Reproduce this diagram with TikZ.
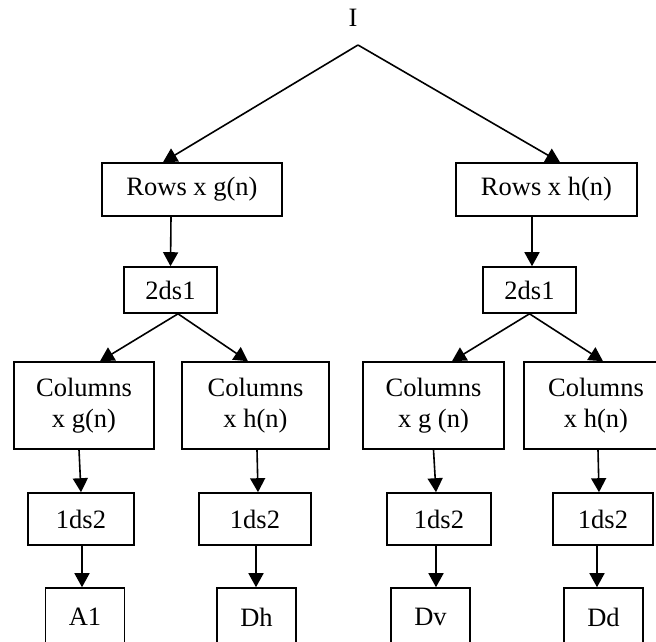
\documentclass[tikz,border=0pt]{standalone}
\usepackage{fontspec}
\setmainfont{Liberation Serif}
\usetikzlibrary{arrows.meta}

\begin{document}
\begin{tikzpicture}
    [
      x = 1pt, y = -1pt,
      font = \fontsize{26.5}{31}\selectfont,
      box/.style = {draw, line width = 1.6pt, inner sep = 0pt, align = center},
      wide/.style = {box, minimum height = 87pt},
      small/.style = {box, minimum height = 52pt},
      leaf/.style = {box, minimum width = 79pt, minimum height = 58pt},
      link/.style = {line width = 1.6pt, -{Triangle[length = 14pt, width = 15pt]}},
    ]
    \useasboundingbox (0,0) rectangle (656,641);

    \node[] (img) at (353,18) {I};
    \coordinate (top) at (358,45);

    \node[box, minimum width = 180pt, minimum height = 53pt] (rowsg) at (192,189.5) {Rows x g(n)};
    \node[box, minimum width = 181pt, minimum height = 53pt] (rowsh) at (546.5,189.5) {Rows x h(n)};

    \node[box, minimum width = 93pt, minimum height = 46pt] (dsg) at (170.5,290) {2ds1};
    \node[box, minimum width = 93pt, minimum height = 46pt] (dsh) at (529.5,290) {2ds1};

    \node[wide, minimum width = 140pt] (colgg) at (84,405.5) {Columns\\x g(n)};
    \node[wide, minimum width = 147pt] (colgh) at (255.5,405.5) {Columns\\x h(n)};
    \node[wide, minimum width = 141pt] (colhg) at (433.5,405.5) {Columns\\x g (n)};
    \node[wide, minimum width = 144pt] (colhh) at (596,405.5) {Columns\\x h(n)};

    \node[small, minimum width = 106pt] (dsgg) at (81,519) {1ds2};
    \node[small, minimum width = 112pt] (dsgh) at (255,519) {1ds2};
    \node[small, minimum width = 104pt] (dshg) at (439,519) {1ds2};
    \node[small, minimum width = 100pt] (dshh) at (603,519) {1ds2};

    \node[leaf] (a1) at (85,617) {A1};
    \node[leaf] (dh) at (256.5,617) {Dh};
    \node[leaf] (dv) at (430.5,617) {Dv};
    \node[leaf] (dd) at (603.5,617) {Dd};

    \draw[link] (top) -- ([xshift = -29pt]rowsg.north);
    \draw[link] (top) -- ([xshift = 13.5pt]rowsh.north);

    \draw[link] ([xshift = -21pt]rowsg.south) -- (dsg.north);
    \draw[link] ([xshift = -14.5pt]rowsh.south) -- ([xshift = 2.5pt]dsh.north);

    \draw[link] ([xshift = 7.5pt]dsg.south) -- ([xshift = 16pt]colgg.north);
    \draw[link] ([xshift = 7.5pt]dsg.south) -- ([xshift = -7.5pt]colgh.north);
    \draw[link] (dsh.south) -- ([xshift = 18.5pt]colhg.north);
    \draw[link] (dsh.south) -- ([xshift = 7pt]colhh.north);

    \draw[link] ([xshift = -5pt]colgg.south) -- (dsgg.north);
    \draw[link] ([xshift = 1.5pt]colgh.south) -- ([xshift = 3pt]dsgh.north);
    \draw[link] (colhg.south) -- ([xshift = -3pt]dshg.north);
    \draw[link] ([xshift = 2pt]colhh.south) -- ([xshift = -4pt]dshh.north);

    \draw[link] ([xshift = 1pt]dsgg.south) -- ([xshift = -3pt]a1.north);
    \draw[link] ([xshift = 1pt]dsgh.south) -- ([xshift = -0.5pt]dh.north);
    \draw[link] ([xshift = -3pt]dshg.south) -- ([xshift = 5.5pt]dv.north);
    \draw[link] ([xshift = -6pt]dshh.south) -- ([xshift = -6.5pt]dd.north);

  \end{tikzpicture}
\end{document}
